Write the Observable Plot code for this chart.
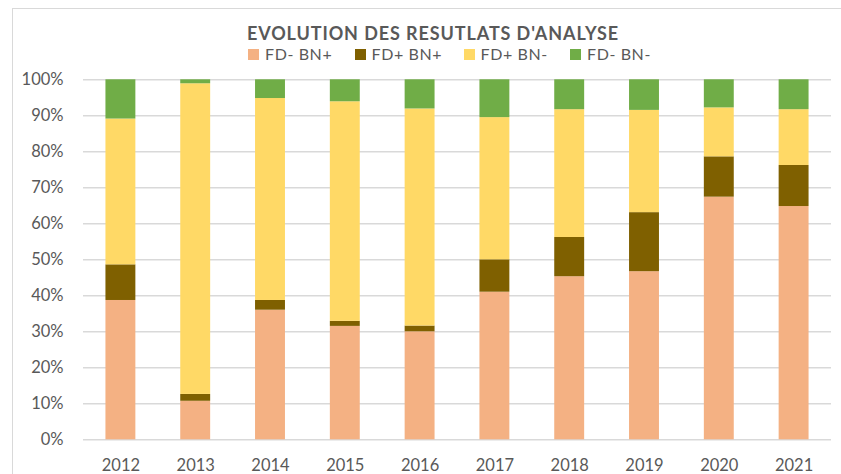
<!DOCTYPE html>
<html><head><meta charset="utf-8">
<script src="https://cdn.jsdelivr.net/npm/d3@7"></script>
<script src="https://cdn.jsdelivr.net/npm/@observablehq/plot@0.6"></script>
<style>
html,body{margin:0;padding:0;background:#fff;}
body{width:841px;height:474px;position:relative;overflow:hidden;font-family:Lato,sans-serif;color:#595959;}
#frame{position:absolute;left:12px;top:8px;width:840px;height:470px;border-left:1.5px solid #d9d9d9;border-top:1.5px solid #d9d9d9;}
#title{position:absolute;left:0;width:866px;top:24px;text-align:center;font-weight:bold;font-size:18px;line-height:18px;height:18px;letter-spacing:0.9px;white-space:nowrap;}
#legend{position:absolute;left:0;top:46px;width:841px;height:16px;font-size:16px;line-height:16px;letter-spacing:0.6px;white-space:nowrap;}
#legend .item{position:absolute;top:0;display:flex;align-items:center;height:16px;}
#legend .sw{width:11px;height:11px;margin-right:6px;flex-shrink:0;display:inline-block;}
#chart{position:absolute;left:0;top:62px;}
</style></head>
<body>
<div id="frame"></div>
<div id="title">EVOLUTION DES RESUTLATS D'ANALYSE</div>
<div id="legend"></div>
<div id="chart"></div>
<script>
const years = ["2012","2013","2014","2015","2016","2017","2018","2019","2020","2021"];
const series = ["FD- BN+","FD+ BN+","FD+ BN-","FD- BN-"];
const colors = ["#F4B183","#7F6000","#FFD966","#70AD47"];
const fdMinusBnPlus = [38.7,10.7,36.0,31.5,30.0,41.0,45.3,46.7,67.4,64.8];
const fdPlusBnPlus  = [9.9,1.9,2.7,1.4,1.6,9.0,10.9,16.4,11.2,11.4];
const fdPlusBnMinus = [40.5,86.3,56.1,61.0,60.3,39.5,35.5,28.4,13.6,15.5];
const fdMinusBnMinus= [10.9,1.1,5.2,6.1,8.1,10.5,8.3,8.5,7.8,8.3];
const yTicks = [0,0.1,0.2,0.3,0.4,0.5,0.6,0.7,0.8,0.9,1];

const valuesBySeries = [fdMinusBnPlus, fdPlusBnPlus, fdPlusBnMinus, fdMinusBnMinus];
const data = [];
series.forEach((s, i) => years.forEach((y, j) => data.push({year: y, series: s, value: valuesBySeries[i][j] / 100})));

const legendLefts = [248, 354.5, 463.5, 570];
const legend = document.getElementById("legend");
series.forEach((s, i) => {
  const it = document.createElement("div");
  it.className = "item";
  it.style.left = legendLefts[i] + "px";
  it.innerHTML = `<span class="sw" style="background:${colors[i]}"></span><span>${s}</span>`;
  legend.appendChild(it);
});

const plot = Plot.plot({
  width: 841,
  height: 412,
  marginLeft: 83,
  marginRight: 10,
  marginTop: 17.3,
  marginBottom: 34.7,
  style: {fontFamily: "Lato, sans-serif", fontSize: "16.5px", color: "#595959", background: "transparent"},
  x: {domain: years, paddingInner: 0.6, paddingOuter: 0.3, round: false, label: null},
  y: {domain: [0, 1], label: null},
  color: {domain: series, range: colors},
  marks: [
    Plot.ruleY(yTicks, {stroke: "#d9d9d9", strokeWidth: 1.5}),
    Plot.barY(data, {x: "year", y: "value", fill: "series", order: series}),
    Plot.axisY({ticks: yTicks, tickFormat: d3.format(".0%"), tickSize: 0, tickPadding: 20, fill: "#595959", label: null}),
    Plot.axisX({tickSize: 0, tickPadding: 19, fill: "#595959", label: null})
  ]
});
document.getElementById("chart").appendChild(plot);
</script>
</body></html>
